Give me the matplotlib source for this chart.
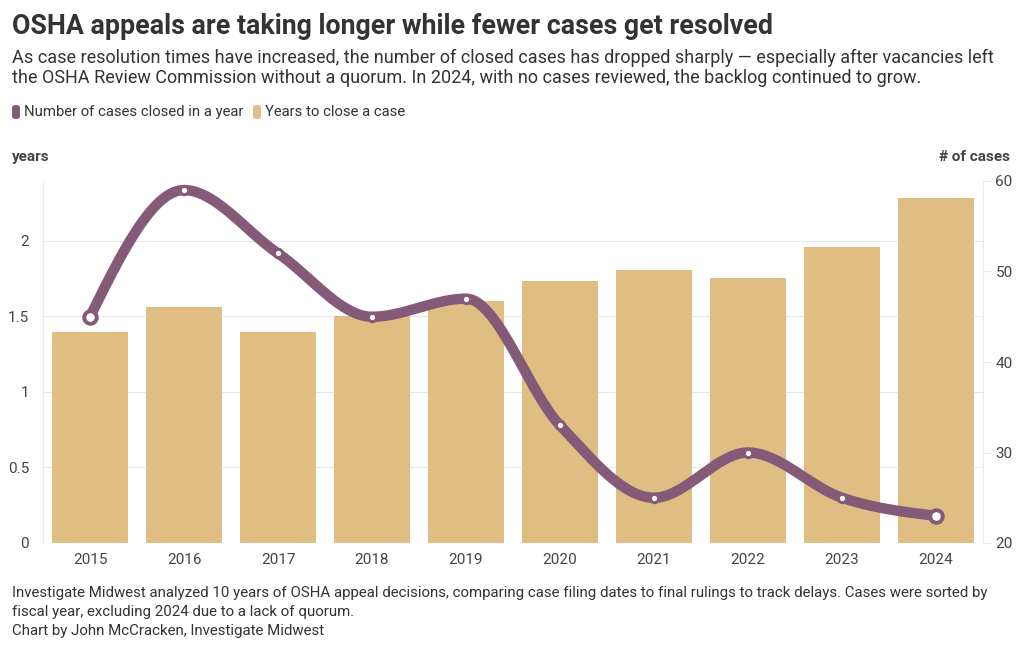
import numpy as np
import matplotlib
matplotlib.use("Agg")
from matplotlib import pyplot as plt
from matplotlib.patches import FancyBboxPatch

plt.rcParams['font.family'] = ['Roboto', 'DejaVu Sans']

years = ["2015", "2016", "2017", "2018", "2019", "2020", "2021", "2022", "2023", "2024"]
years_to_close = [1.40, 1.56, 1.40, 1.50, 1.60, 1.735, 1.81, 1.755, 1.96, 2.285]
cases_closed = [45, 59, 52, 45, 47, 33, 25, 30, 25, 23]

BAR = "#dfbd83"
LINE = "#845a78"
TXT = "#333333"
GRID = "#e8e8e8"


def monotone_x(x, y, n=40):
    # d3 curveMonotoneX style interpolation
    x = np.asarray(x, float)
    y = np.asarray(y, float)
    h = np.diff(x)
    s = np.diff(y) / h
    t = np.zeros(len(x))
    for i in range(1, len(x) - 1):
        p = (s[i - 1] * h[i] + s[i] * h[i - 1]) / (h[i - 1] + h[i])
        t[i] = (np.sign(s[i - 1]) + np.sign(s[i])) * min(abs(s[i - 1]), abs(s[i]), 0.5 * abs(p))
    t[0] = (3 * s[0] - t[1]) / 2
    t[-1] = (3 * s[-1] - t[-2]) / 2
    xs, ys = [], []
    for i in range(len(x) - 1):
        u = np.linspace(0, 1, n)
        h00 = 2 * u**3 - 3 * u**2 + 1
        h10 = u**3 - 2 * u**2 + u
        h01 = -2 * u**3 + 3 * u**2
        h11 = u**3 - u**2
        xs.append(x[i] + u * h[i])
        ys.append(h00 * y[i] + h10 * h[i] * t[i] + h01 * y[i + 1] + h11 * h[i] * t[i + 1])
    return np.concatenate(xs), np.concatenate(ys)


fig = plt.figure(figsize=(10.2, 6.5), dpi=100)
ax = fig.add_axes([43 / 1020, 107 / 650, 940 / 1020, 362 / 650])
ax2 = ax.twinx()

xpos = np.arange(len(years))
ax.bar(xpos, years_to_close, width=0.8, color=BAR, zorder=2)
ax.set_xlim(-0.5, len(years) - 0.5)
ax.set_ylim(0, 2.397)
ax.set_yticks([0, 0.5, 1, 1.5, 2])
ax.set_yticklabels(["0", "0.5", "1", "1.5", "2"])
ax.set_xticks(xpos)
ax.set_xticklabels(years)
ax.grid(axis="y", color=GRID, lw=0.8, zorder=0)
ax.set_axisbelow(True)

ax2.set_ylim(20, 60)
ax2.set_yticks([20, 30, 40, 50, 60])

sx, sy = monotone_x(xpos, cases_closed)
ax2.plot(sx, sy, color=LINE, lw=7.5, solid_capstyle="round", zorder=3)
ax2.plot(xpos[1:-1], cases_closed[1:-1], "o", ms=6, mfc="white", mec=LINE, mew=2.2, zorder=4)
ax2.plot(xpos[[0, -1]], np.array(cases_closed)[[0, -1]], "o", ms=9, mfc="white", mec=LINE, mew=2.8, zorder=4)

for a in (ax, ax2):
    for sp in a.spines.values():
        sp.set_visible(False)
ax.spines["left"].set_visible(True)
ax.spines["left"].set_color(GRID)
ax2.spines["right"].set_visible(True)
ax2.spines["right"].set_color(GRID)
ax.tick_params(axis="y", length=0, labelsize=11, labelcolor="#444444", pad=10)
ax.tick_params(axis="x", length=0, labelsize=11, labelcolor="#444444", pad=7)
ax2.tick_params(axis="y", length=6, color=GRID, labelsize=11, labelcolor="#444444", pad=3)

fig.text(12 / 1020, 1 - 26 / 650, "OSHA appeals are taking longer while fewer cases get resolved",
         fontsize=19.3, fontweight="bold", color=TXT, va="center")
fig.text(12 / 1020, 1 - 58 / 650,
         "As case resolution times have increased, the number of closed cases has dropped sharply \u2014 especially after vacancies left",
         fontsize=13, color=TXT, va="center")
fig.text(12 / 1020, 1 - 78 / 650,
         "the OSHA Review Commission without a quorum. In 2024, with no cases reviewed, the backlog continued to grow.",
         fontsize=13, color=TXT, va="center")

# legend
fig.patches.append(FancyBboxPatch((12 / 1020, 1 - 119 / 650), 8 / 1020, 14 / 650,
                                  boxstyle="round,pad=0,rounding_size=0.004", transform=fig.transFigure,
                                  fc=LINE, ec="none"))
fig.text(24 / 1020, 1 - 112 / 650, "Number of cases closed in a year", fontsize=10.7, color=TXT, va="center")
fig.patches.append(FancyBboxPatch((253 / 1020, 1 - 119 / 650), 8 / 1020, 14 / 650,
                                  boxstyle="round,pad=0,rounding_size=0.004", transform=fig.transFigure,
                                  fc=BAR, ec="none"))
fig.text(265 / 1020, 1 - 112 / 650, "Years to close a case", fontsize=10.7, color=TXT, va="center")

fig.text(12 / 1020, 1 - 157 / 650, "years", fontsize=11, fontweight="bold", color="#444444", va="center")
fig.text(1010 / 1020, 1 - 157 / 650, "# of cases", fontsize=11, fontweight="bold", color="#444444",
         va="center", ha="right")

foot = ["Investigate Midwest analyzed 10 years of OSHA appeal decisions, comparing case filing dates to final rulings to track delays. Cases were sorted by",
        "fiscal year, excluding 2024 due to a lack of quorum.",
        "Chart by John McCracken, Investigate Midwest"]
for i, line in enumerate(foot):
    fig.text(12 / 1020, 1 - (593 + i * 19) / 650, line, fontsize=10.8, color=TXT, va="center")

fig.savefig("out.png", dpi=100, facecolor="white")
